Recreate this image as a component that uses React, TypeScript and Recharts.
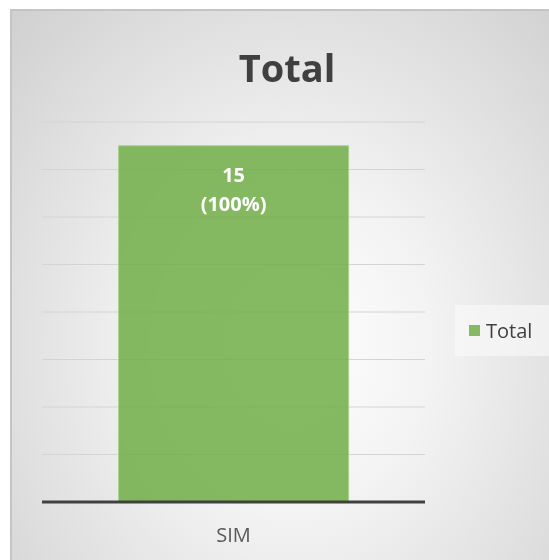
import React from 'react';
import { BarChart, Bar, XAxis, YAxis, CartesianGrid, Legend, LabelList } from 'recharts';

const categories = ['SIM'];
const totals = [15];
const percents = ['100%'];
const yTicks = [0, 2, 4, 6, 8, 10, 12, 14, 16];

const data = categories.map((name, i) => ({ name, total: totals[i], pct: percents[i] }));

const FONT = '"Open Sans", "Noto Sans", sans-serif';

const BarLabel = (props: any) => {
    const { x, y, width, index } = props;
    const cx = x + width / 2;
    return (
        <g>
            <text x={cx} y={y + 36} textAnchor="middle" fill="#ffffff" fontSize={20} fontWeight={700} fontFamily={FONT}>
                {totals[index]}
            </text>
            <text x={cx} y={y + 65} textAnchor="middle" fill="#ffffff" fontSize={20} fontWeight={700} fontFamily={FONT}>
                ({percents[index]})
            </text>
        </g>
    );
};

const LegendBox = () => (
    <div style={{
        display: 'flex', alignItems: 'center', padding: '12px 14px', width: 70,
        background: 'rgba(250,250,250,0.6)', fontFamily: FONT, fontSize: 20, color: '#404040',
    }}>
        <span style={{ width: 11, height: 11, background: '#85b962', marginRight: 6, display: 'inline-block' }} />
        Total
    </div>
);

export default function App() {
    return (
        <div style={{
            position: 'fixed', left: 10, top: 9, width: 560, height: 560,
            borderTop: '2px solid #c4c4c4', borderLeft: '2px solid #c4c4c4',
            background: 'radial-gradient(ellipse at 50% 60%, #ffffff 0%, #f3f3f3 35%, #d0d0d0 100%)',
        }}>
            <div style={{
                position: 'absolute', left: 0, width: 550, top: 30, textAlign: 'center',
                fontFamily: FONT, fontWeight: 700, fontSize: 38, color: '#404040',
            }}>
                Total
            </div>
            <BarChart
                width={537}
                height={549}
                data={data}
                margin={{ top: 111, right: 124, left: 30, bottom: 28 }}
                barCategoryGap="20%"
            >
                <CartesianGrid horizontal vertical={false} stroke="#d4d4d4" />
                <XAxis
                    dataKey="name"
                    stroke="#404040"
                    axisLine={{ stroke: '#404040', strokeWidth: 3 }}
                    tickLine={false}
                    tick={{ fill: '#595959', fontSize: 20, fontFamily: FONT }}
                    tickMargin={20}
                    height={30}
                />
                <YAxis hide domain={[0, 16]} ticks={yTicks} />
                <Legend
                    layout="horizontal"
                    verticalAlign="middle"
                    content={<LegendBox />}
                    wrapperStyle={{ left: 443, top: 294, width: 'auto' }}
                />
                <Bar dataKey="total" name="Total" fill="#70ad47" fillOpacity={0.85} stroke="#a9d18e" isAnimationActive={false}>
                    <LabelList dataKey="total" content={<BarLabel />} />
                </Bar>
            </BarChart>
        </div>
    );
}
